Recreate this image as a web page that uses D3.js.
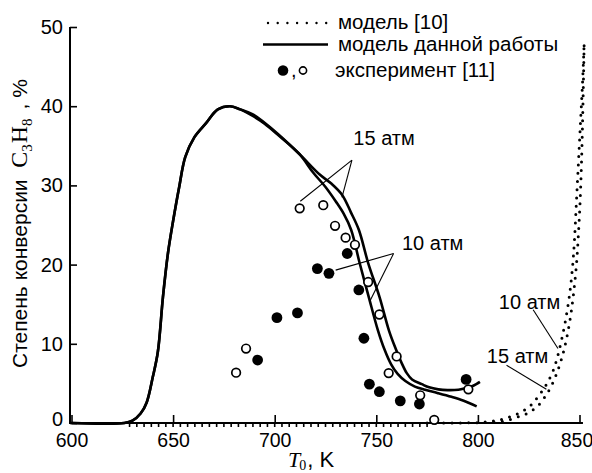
<!DOCTYPE html>
<html>
<head>
<meta charset="utf-8">
<script src="https://cdn.jsdelivr.net/npm/d3@7"></script>
<style>
  html, body { margin: 0; padding: 0; background: #fff; }
  svg { display: block; }
  text { fill: #000; }
</style>
</head>
<body>
<svg id="chart" width="592" height="473"></svg>
<script>
// Propane conversion vs. initial temperature T0

// axis ticks
const xTicks = [600, 650, 700, 750, 800, 850];
const yTicks = [0, 10, 20, 30, 40, 50];

// this work's model, 10 atm (inner curve)
const thisModel10T = [600, 626, 630, 634, 637, 640, 642.5, 645, 647.5, 650, 653, 656, 660.5, 666, 672, 678, 683, 689, 695, 702, 712, 719, 725, 730, 734, 737.6, 741.8, 746.3, 750.8, 754, 757.3, 760.5, 764.3, 769, 774, 780, 787, 793, 799.4];
const thisModel10C = [0, 0, 0.3, 1.2, 2.6, 5.8, 9, 15.9, 21.5, 25.5, 29.8, 33.6, 36.1, 37.8, 39.6, 40, 39.6, 38.8, 37.8, 36.3, 34.0, 31.6, 29.8, 28.0, 26.4, 24.4, 20.2, 15.9, 11.7, 9.3, 7.4, 6.2, 5.3, 4.6, 4.2, 3.8, 3.3, 2.8, 2.1];

// this work's model, 15 atm (outer curve)
const thisModel15T = [600, 626, 630, 634, 637, 640, 642.5, 645, 647.5, 650, 653, 656, 660.5, 666, 672, 678, 683, 689, 695, 702, 712, 722, 728, 733.2, 737.5, 741.4, 746, 751.6, 756.2, 759.5, 762.6, 765, 767.6, 772.4, 776, 780.5, 785, 790.4, 794, 796.8, 799.4, 801];
const thisModel15C = [0, 0, 0.3, 1.2, 2.6, 5.8, 9, 15.9, 21.5, 25.5, 29.8, 33.6, 36.1, 37.8, 39.6, 40, 39.6, 39.0, 37.9, 36.4, 34.0, 31.4, 30.2, 28.8, 26.6, 24.4, 20.2, 15.9, 11.7, 9.4, 7.5, 6.3, 5.5, 4.9, 4.5, 4.25, 4.15, 4.2, 4.4, 4.6, 4.95, 5.2];

// model [10], 10 atm (dotted)
const refModel10T = [775, 790, 800, 805, 810, 815, 820, 825, 828, 831, 834, 837, 839, 841, 843, 845, 846.5, 847.5, 848.5, 849.5, 850.5, 851.5, 852.3];
const refModel10C = [0, 0, 0.05, 0.15, 0.35, 0.7, 1.2, 2.0, 2.8, 3.8, 5.0, 6.6, 8.2, 10.3, 12.8, 16.0, 19.5, 23.0, 28.0, 33.0, 38.0, 43.0, 48.0];

// model [10], 15 atm (dotted)
const refModel15T = [808, 812, 816, 820, 825, 830, 833, 836, 839, 841.5, 843.5, 845.5, 847, 848.5, 849.5, 850.3, 851, 851.6, 852.3];
const refModel15C = [0.05, 0.2, 0.45, 0.8, 1.3, 2.3, 3.3, 4.6, 6.4, 8.4, 10.5, 13.3, 16.2, 20.0, 24.0, 28.0, 33.0, 39.0, 48.0];

// experiment [11], 10 atm (filled)
const exp10T = [691.6, 701.1, 711.2, 721.0, 726.7, 735.7, 741.4, 743.9, 746.6, 751.5, 761.8, 771.2, 794.2];
const exp10C = [7.95, 13.3, 13.9, 19.5, 18.9, 21.4, 16.8, 10.7, 4.9, 3.95, 2.8, 2.4, 5.5];

// experiment [11], 15 atm (open)
const exp15T = [681.0, 685.9, 712.3, 723.9, 729.7, 734.9, 739.5, 746.0, 751.5, 756.1, 760.0, 771.6, 778.5, 795.3];
const exp15C = [6.35, 9.4, 27.1, 27.5, 24.9, 23.4, 22.5, 17.8, 13.7, 6.3, 8.4, 3.5, 0.4, 4.25];

// callout labels: text, text anchor (T, C), leader start (T, C), leader ends [(T, C), ...]
const calloutText = ["15 атм", "10 атм", "10 атм", "15 атм"];
const calloutAt = [[738.7, 35.1], [762.6, 21.9], [810.3, 14.4], [804.4, 7.6]];
const calloutFrom = [[738.0, 33.2], [758.5, 21.4], [827.2, 14.3], [814.1, 7.3]];
const calloutTo = [
  [[712.6, 28.0], [733.1, 28.5]],
  [[730.0, 19.3], [746.7, 15.3]],
  [[839.4, 9.4]],
  [[833.7, 4.25]]
];

const legendLabels = ["модель [10]", "модель данной работы", "эксперимент [11]"];

const SANS = "'Liberation Sans', Arial, sans-serif";
const SERIF = "'Liberation Serif', 'Times New Roman', serif";

const svg = d3.select("#chart");

const x = d3.scaleLinear().domain([600, 850]).range([71.5, 579.5]);
const y = d3.scaleLinear().domain([0, 50]).range([423, 27]);

const zip = (a, b) => a.map((v, i) => [v, b[i]]);

// ---- axes ----
const xAxis = d3.axisBottom(x)
  .tickValues(xTicks)
  .tickSizeInner(-8)
  .tickSizeOuter(0)
  .tickPadding(10)
  .tickFormat(d3.format("d"));

const gx = svg.append("g")
  .attr("transform", `translate(0,${y(0)})`)
  .call(xAxis);
gx.select(".domain").remove();
gx.selectAll(".tick line").attr("stroke", "#000").attr("stroke-width", 1.6);
gx.selectAll(".tick text")
  .attr("font-family", SANS).attr("font-size", 19.5).attr("fill", "#000");
gx.selectAll(".tick text").filter(d => d === 850).attr("dx", -3);

// minor ticks hanging below the axis
const minorStep = 50 / 14;
const minorTicks = d3.range(600, 851, minorStep).filter(v => v > 628 && v < 776);
svg.append("g").selectAll("line").data(minorTicks).join("line")
  .attr("x1", d => x(d)).attr("x2", d => x(d))
  .attr("y1", y(0)).attr("y2", y(0) + 4)
  .attr("stroke", "#000").attr("stroke-width", 1.6);

const yAxis = d3.axisLeft(y)
  .tickValues(yTicks)
  .tickSizeInner(-7)
  .tickSizeOuter(0)
  .tickPadding(7)
  .tickFormat(d3.format("d"));

const gy = svg.append("g")
  .attr("transform", `translate(${x(600) - 1.5},0)`)
  .call(yAxis);
gy.select(".domain").remove();
gy.selectAll(".tick line").attr("stroke", "#000").attr("stroke-width", 1.6);
gy.selectAll(".tick text")
  .attr("font-family", SANS).attr("font-size", 20).attr("fill", "#000")
  .attr("dy", d => d === 0 ? "0.12em" : "0.32em");

// axis lines
svg.append("line")
  .attr("x1", x(600) - 1.5).attr("x2", x(600) - 1.5)
  .attr("y1", y(0)).attr("y2", y(50))
  .attr("stroke", "#000").attr("stroke-width", 2);
svg.append("line")
  .attr("x1", x(600) - 2.5).attr("x2", x(851.7))
  .attr("y1", y(0)).attr("y2", y(0))
  .attr("stroke", "#000").attr("stroke-width", 2);

// ---- curves ----
const line = d3.line()
  .x(d => x(d[0])).y(d => y(d[1]))
  .curve(d3.curveCatmullRom.alpha(0.5));

[zip(thisModel10T, thisModel10C), zip(thisModel15T, thisModel15C)].forEach(pts => {
  svg.append("path").datum(pts)
    .attr("d", line)
    .attr("fill", "none").attr("stroke", "#000")
    .attr("stroke-width", 2.6).attr("stroke-linejoin", "round");
});

[zip(refModel10T, refModel10C), zip(refModel15T, refModel15C)].forEach(pts => {
  svg.append("path").datum(pts)
    .attr("d", line)
    .attr("fill", "none").attr("stroke", "#000")
    .attr("stroke-width", 3)
    .attr("stroke-linecap", "round")
    .attr("stroke-dasharray", "0 8.3");
});

// ---- experimental points ----
svg.append("g").selectAll("circle").data(zip(exp10T, exp10C)).join("circle")
  .attr("cx", d => x(d[0])).attr("cy", d => y(d[1]))
  .attr("r", 5.4).attr("fill", "#000");

svg.append("g").selectAll("circle").data(zip(exp15T, exp15C)).join("circle")
  .attr("cx", d => x(d[0])).attr("cy", d => y(d[1]))
  .attr("r", 4.3).attr("fill", "#fff")
  .attr("stroke", "#000").attr("stroke-width", 1.7);

// ---- callouts ----
calloutText.forEach((t, i) => {
  const [fx, fy] = calloutFrom[i];
  calloutTo[i].forEach(([tx, ty]) => {
    svg.append("line")
      .attr("x1", x(fx)).attr("y1", y(fy))
      .attr("x2", x(tx)).attr("y2", y(ty))
      .attr("stroke", "#000").attr("stroke-width", 1.1);
  });
  svg.append("text")
    .attr("x", x(calloutAt[i][0])).attr("y", y(calloutAt[i][1]))
    .attr("font-family", SANS).attr("font-size", 20)
    .text(t);
});

// ---- legend ----
const lg = svg.append("g");
lg.append("line")
  .attr("x1", 268).attr("x2", 327).attr("y1", 23).attr("y2", 23)
  .attr("stroke", "#000").attr("stroke-width", 2.4)
  .attr("stroke-linecap", "round").attr("stroke-dasharray", "0 9.7");
lg.append("line")
  .attr("x1", 263).attr("x2", 328).attr("y1", 44.5).attr("y2", 44.5)
  .attr("stroke", "#000").attr("stroke-width", 2.4);
lg.append("circle").attr("cx", 283).attr("cy", 70.5).attr("r", 5.3).attr("fill", "#000");
lg.append("text").attr("x", 291).attr("y", 77)
  .attr("font-family", SANS).attr("font-size", 20).text(",");
lg.append("circle").attr("cx", 303).attr("cy", 70.5).attr("r", 3.6)
  .attr("fill", "#fff").attr("stroke", "#000").attr("stroke-width", 1.6);
const legendY = [28.5, 50.5, 77];
const legendX = [338, 338, 335];
legendLabels.forEach((t, i) => {
  lg.append("text").attr("x", legendX[i]).attr("y", legendY[i])
    .attr("font-family", SANS).attr("font-size", 20.5).text(t);
});

// ---- axis titles ----
const yt = svg.append("text")
  .attr("transform", "translate(26.5,368) rotate(-90)")
  .attr("font-family", SANS).attr("font-size", 21);
yt.append("tspan").text("Степень конверсии\u00a0\u00a0");
yt.append("tspan").attr("font-family", SERIF).attr("font-size", 24).text("C");
yt.append("tspan").attr("font-family", SERIF).attr("font-size", 15).attr("dy", 5).text("3");
yt.append("tspan").attr("font-family", SERIF).attr("font-size", 24).attr("dy", -5).attr("dx", 1).text("H");
yt.append("tspan").attr("font-family", SERIF).attr("font-size", 15).attr("dy", 5).text("8");
yt.append("tspan").attr("dy", -5).attr("dx", 3).text(" , %");

const xt = svg.append("text")
  .attr("x", 288).attr("y", 467)
  .attr("font-family", SANS).attr("font-size", 22);
xt.append("tspan").attr("font-family", SERIF).attr("font-style", "italic").attr("font-size", 22).text("T");
xt.append("tspan").attr("font-family", SERIF).attr("font-size", 14).attr("dy", 3).attr("dx", -1).text("0");
xt.append("tspan").attr("dy", -3).attr("dx", 1).text(",\u00a0K");
</script>
</body>
</html>
